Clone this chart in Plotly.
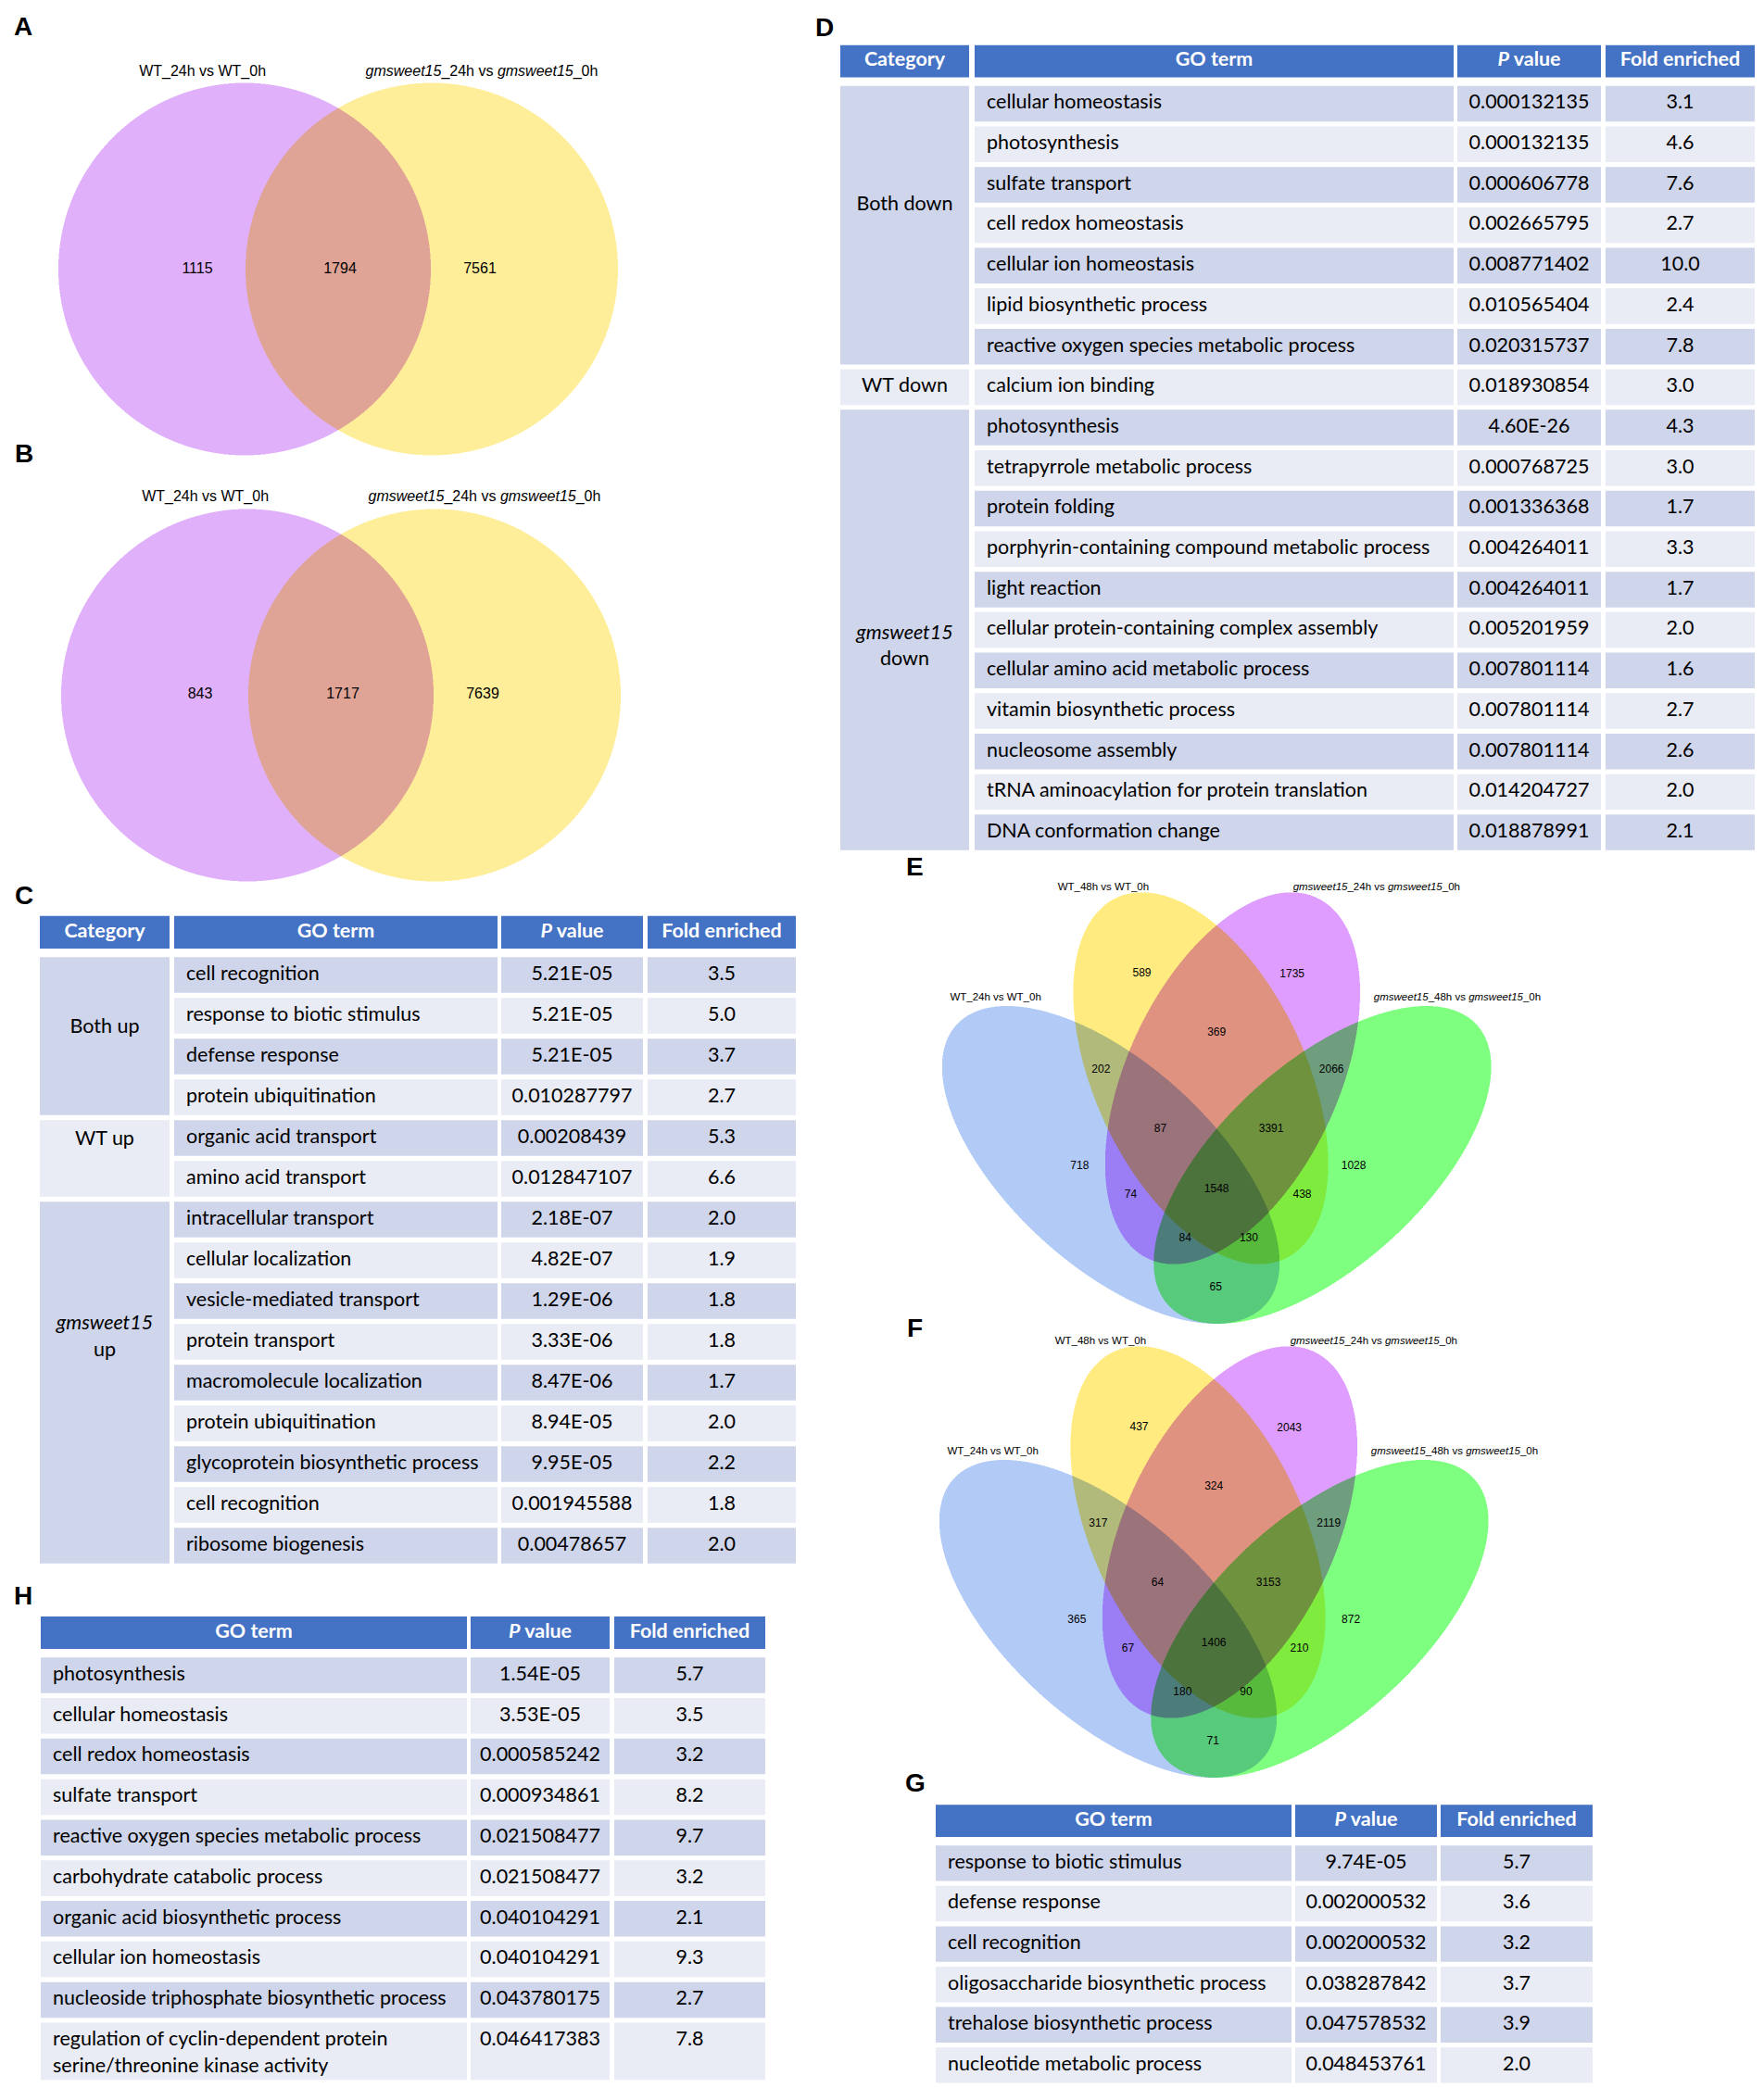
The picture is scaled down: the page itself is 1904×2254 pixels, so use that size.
import numpy as np
import plotly.graph_objects as go

W, H = 1904, 2254
FONT_T = "Lato, Carlito, Calibri, sans-serif"
FONT_V = "Liberation Sans Narrow, Arial Narrow, Liberation Sans, Arial, sans-serif"
HEAD = "#4472C4"
DARK = "#CFD5EA"
LIGHT = "#E9EBF5"

# ---------------- data ----------------
two_sets = ["WT_24h vs WT_0h", "<i>gmsweet15</i>_24h vs <i>gmsweet15</i>_0h"]
venn_a_counts = [1115, 1794, 7561]   # only 1, both, only 2
venn_b_counts = [843, 1717, 7639]

four_sets = ["WT_24h vs WT_0h", "WT_48h vs WT_0h",
             "<i>gmsweet15</i>_24h vs <i>gmsweet15</i>_0h",
             "<i>gmsweet15</i>_48h vs <i>gmsweet15</i>_0h"]
quad_regions = ["1", "2", "3", "4", "12", "13", "14", "23", "24", "34",
                "123", "124", "134", "234", "1234"]
venn_e_counts = [718, 589, 1735, 1028, 202, 74, 65, 369, 438, 2066, 87, 130, 84, 3391, 1548]
venn_f_counts = [365, 437, 2043, 872, 317, 67, 71, 324, 210, 2119, 64, 90, 180, 3153, 1406]

c_groups = ["Both up", "WT up", "<i>gmsweet15</i><br>up"]
c_sizes = [4, 2, 9]
c_terms = ["cell recognition", "response to biotic stimulus", "defense response",
           "protein ubiquitination", "organic acid transport", "amino acid transport",
           "intracellular transport", "cellular localization", "vesicle-mediated transport",
           "protein transport", "macromolecule localization", "protein ubiquitination",
           "glycoprotein biosynthetic process", "cell recognition", "ribosome biogenesis"]
c_pvals = ["5.21E-05", "5.21E-05", "5.21E-05", "0.010287797", "0.00208439", "0.012847107",
           "2.18E-07", "4.82E-07", "1.29E-06", "3.33E-06", "8.47E-06", "8.94E-05",
           "9.95E-05", "0.001945588", "0.00478657"]
c_fold = [3.5, 5.0, 3.7, 2.7, 5.3, 6.6, 2.0, 1.9, 1.8, 1.8, 1.7, 2.0, 2.2, 1.8, 2.0]

d_groups = ["Both down", "WT down", "<i>gmsweet15</i><br>down"]
d_sizes = [7, 1, 11]
d_terms = ["cellular homeostasis", "photosynthesis", "sulfate transport", "cell redox homeostasis",
           "cellular ion homeostasis", "lipid biosynthetic process",
           "reactive oxygen species metabolic process", "calcium ion binding", "photosynthesis",
           "tetrapyrrole metabolic process", "protein folding",
           "porphyrin-containing compound metabolic process", "light reaction",
           "cellular protein-containing complex assembly", "cellular amino acid metabolic process",
           "vitamin biosynthetic process", "nucleosome assembly",
           "tRNA aminoacylation for protein translation", "DNA conformation change"]
d_pvals = ["0.000132135", "0.000132135", "0.000606778", "0.002665795", "0.008771402",
           "0.010565404", "0.020315737", "0.018930854", "4.60E-26", "0.000768725",
           "0.001336368", "0.004264011", "0.004264011", "0.005201959", "0.007801114",
           "0.007801114", "0.007801114", "0.014204727", "0.018878991"]
d_fold = [3.1, 4.6, 7.6, 2.7, 10.0, 2.4, 7.8, 3.0, 4.3, 3.0, 1.7, 3.3, 1.7, 2.0, 1.6, 2.7, 2.6, 2.0, 2.1]

g_terms = ["response to biotic stimulus", "defense response", "cell recognition",
           "oligosaccharide biosynthetic process", "trehalose biosynthetic process",
           "nucleotide metabolic process"]
g_pvals = ["9.74E-05", "0.002000532", "0.002000532", "0.038287842", "0.047578532", "0.048453761"]
g_fold = [5.7, 3.6, 3.2, 3.7, 3.9, 2.0]

h_terms = ["photosynthesis", "cellular homeostasis", "cell redox homeostasis", "sulfate transport",
           "reactive oxygen species metabolic process", "carbohydrate catabolic process",
           "organic acid biosynthetic process", "cellular ion homeostasis",
           "nucleoside triphosphate biosynthetic process",
           "regulation of cyclin-dependent protein<br>serine/threonine kinase activity"]
h_pvals = ["1.54E-05", "3.53E-05", "0.000585242", "0.000934861", "0.021508477", "0.021508477",
           "0.040104291", "0.040104291", "0.043780175", "0.046417383"]
h_fold = [5.7, 3.5, 3.2, 8.2, 9.7, 3.2, 2.1, 9.3, 2.7, 7.8]

hdr4 = ["Category", "GO term", "<i>P</i> value", "Fold enriched"]
hdr3 = ["GO term", "<i>P</i> value", "Fold enriched"]

# ---------------- layout / style ----------------
# venn geometry in page pixels: (cx, cy, a, b, angle)
two_ellipses = [(263, 286.5, 201, 201, 0), (465, 286.5, 201, 201, 0)]
two_colors = [(224, 176, 250), (255, 238, 153)]
two_count_xy = [(212, 286.5), (366, 286.5), (517, 286.5)]
two_label_xy = [(217.6, 73.5), (519, 73.5)]

quad_ellipses = [(1198, 1255.5, 225, 109.4, 42.2), (1295, 1162, 215, 114, 65),
                 (1329.4, 1162, 215, 114, 115), (1426.4, 1255.5, 225, 109.4, 137.8)]
quad_colors = [(177, 202, 246), (255, 235, 127), (223, 158, 255), (127, 255, 127)]
quad_count_xy = [(1164.3, 1256.5), (1231.5, 1049.3), (1393.7, 1050.3), (1460.1, 1256.5),
                 (1187.3, 1152.7), (1219.4, 1287.9), (1311.3, 1388.3), (1312.2, 1112.8),
                 (1404.5, 1287.9), (1436.2, 1152.7), (1251.4, 1216.9), (1346.9, 1335.2),
                 (1278.3, 1335.2), (1371.1, 1216.9), (1312.2, 1281.8)]
quad_label_xy = [(1073.6, 1075.5), (1189.9, 956.3), (1484.8, 956.3), (1572, 1075.5)]


fig = go.Figure()


def venn_raster(ellipses, colors, left, top, w, h, ss=2):
    xs = left + (np.arange(w * ss) + 0.5) / ss
    ys = top + (np.arange(h * ss) + 0.5) / ss
    X, Y = np.meshgrid(xs, ys)
    img = np.ones((h * ss, w * ss, 3))
    for (cx, cy, a, b, ang), col in zip(ellipses, colors):
        t = np.radians(ang)
        dx, dy = X - cx, Y - cy
        u = dx * np.cos(t) + dy * np.sin(t)
        v = -dx * np.sin(t) + dy * np.cos(t)
        inside = (u / a) ** 2 + (v / b) ** 2 <= 1
        img[inside] *= np.array(col) / 255.0
    img = img.reshape(h, ss, w, ss, 3).mean(axis=(1, 3))
    return np.round(img * 255).astype(np.uint8)


def add_venn(ellipses, colors, box, dx, dy, counts, count_xy, labels, label_xy, fsize, lsize):
    ell = [(cx + dx, cy + dy, a, b, t) for cx, cy, a, b, t in ellipses]
    left, top, w, h = box
    img = venn_raster(ell, colors, left + dx, top + dy, w, h)
    fig.add_trace(go.Image(z=img.tolist(), x0=left + dx + 0.5, y0=top + dy + 0.5, dx=1, dy=1,
                           xaxis="x", yaxis="y", hoverinfo="skip"))
    fig.add_trace(go.Scatter(x=[p[0] + dx for p in count_xy], y=[p[1] + dy for p in count_xy],
                             text=[str(c) for c in counts], mode="text",
                             textfont=dict(family=FONT_V, size=fsize, color="black"),
                             xaxis="x", yaxis="y", hoverinfo="skip", showlegend=False))
    fig.add_trace(go.Scatter(x=[p[0] + dx for p in label_xy], y=[p[1] + dy for p in label_xy],
                             text=labels, mode="text",
                             textfont=dict(family=FONT_V, size=lsize, color="black"),
                             xaxis="x", yaxis="y", hoverinfo="skip", showlegend=False))


add_venn(two_ellipses, two_colors, (55, 82, 620, 412), -7, -4, venn_a_counts, two_count_xy,
         two_sets, two_label_xy, 16, 16)
add_venn(two_ellipses, two_colors, (55, 82, 620, 412), -4, 455.5, venn_b_counts, two_count_xy,
         two_sets, two_label_xy, 16, 16)
add_venn(quad_ellipses, quad_colors, (1005, 958, 615, 478), -7, -6, venn_e_counts, quad_count_xy,
         four_sets, quad_label_xy, 12, 11.5)
add_venn(quad_ellipses, quad_colors, (1005, 958, 615, 478), -10, 484, venn_f_counts, quad_count_xy,
         four_sets, quad_label_xy, 12, 11.5)

LINE = 0.65   # line spacing in rows for two-line cells
GAP = 0.12
TS = 21.5     # table font size


def add_table(k, cols, row0_y, pitch, headers, terms, pvals, folds,
              groups=None, sizes=None, cat_pos=None, heights=None):
    n = len(terms)
    heights = np.array(heights if heights else [1.0] * n)
    starts = np.concatenate([[0], np.cumsum(heights)[:-1]])
    total = heights.sum()
    top, bot = -1.3, total + 0.15
    px_top = row0_y - (0.5 - top) * pitch
    px_bot = row0_y + (bot - 0.5) * pitch
    L, R = cols[0][0] - 4, cols[-1][1] + 4
    fig.layout["xaxis%d" % k] = dict(domain=[L / W, R / W], range=[L, R], visible=False,
                                     fixedrange=True)
    fig.layout["yaxis%d" % k] = dict(domain=[1 - px_bot / H, 1 - px_top / H], range=[bot, top],
                                     visible=False, fixedrange=True)
    xr, yr = "x%d" % k, "y%d" % k

    def bars(y, l, r, width, colors):
        fig.add_trace(go.Bar(y=y, x=[r - l] * len(y), base=[l] * len(y), width=width,
                             orientation="h", marker=dict(color=colors, line=dict(width=0)),
                             xaxis=xr, yaxis=yr, hoverinfo="skip", showlegend=False))

    def texts(x, y, txt, pos, color="black", size=TS):
        fig.add_trace(go.Scatter(x=x, y=y, text=txt, mode="text", textposition=pos,
                                 textfont=dict(family=FONT_T, size=size, color=color),
                                 xaxis=xr, yaxis=yr, hoverinfo="skip", showlegend=False,
                                 cliponaxis=False))

    # header
    hy = -0.55
    for (l, r), t in zip(cols, headers):
        bars([hy], l, r, [0.8], [HEAD])
        texts([(l + r) / 2], [hy], ["<b>%s</b>" % t], "middle center", "white")

    centers = starts + heights / 2
    shade = [DARK if i % 2 == 0 else LIGHT for i in range(n)]
    data_cols = cols[-3:]
    for (l, r) in data_cols:
        bars(list(centers), l, r, list(heights - GAP), shade)

    # first-line positions
    first = starts + 0.5
    (tl, tr), (pl, pr), (fl, fr) = data_cols
    tx, ty, tt = [], [], []
    for i, term in enumerate(terms):
        for j, line in enumerate(term.split("<br>")):
            tx.append(tl + 13)
            ty.append(first[i] + j * LINE)
            tt.append(line)
    texts(tx, ty, tt, "middle right")
    texts([(pl + pr) / 2] * n, list(first), pvals, "middle center")
    texts([(fl + fr) / 2] * n, list(first), ["%.1f" % f for f in folds], "middle center")

    if groups:
        cl, cr = cols[0]
        g_start = np.concatenate([[0], np.cumsum(sizes)[:-1]])
        g_cent = g_start + np.array(sizes) / 2
        bars(list(g_cent), cl, cr, [s - GAP for s in sizes],
             [DARK if i % 2 == 0 else LIGHT for i in range(len(sizes))])
        gx, gy, gt = [], [], []
        for g, p in zip(groups, cat_pos):
            lines = g.split("<br>")
            for j, line in enumerate(lines):
                gx.append((cl + cr) / 2)
                gy.append(p + 0.5 + (j - (len(lines) - 1) / 2) * LINE)
                gt.append(line)
        texts(gx, gy, gt, "middle center")


add_table(2, [(35, 175), (180, 529), (533, 686), (691, 851)], 1044.5, 44.0, hdr4,
          c_terms, c_pvals, c_fold, c_groups, c_sizes, [1.3, 4.05, 8.9])
add_table(3, [(899, 1038), (1044, 1561), (1565, 1720), (1725, 1886)], 104, 43.7, hdr4,
          d_terms, d_pvals, d_fold, d_groups, d_sizes, [2.5, 7.0, 13.43])
add_table(4, [(1002, 1386), (1390, 1543), (1547, 1711)], 2003.4, 43.6, hdr3,
          g_terms, g_pvals, g_fold)
add_table(5, [(36, 496), (500, 650), (655, 818)], 1800.5, 43.8, hdr3,
          h_terms, h_pvals, h_fold, heights=[1] * 9 + [1.53])

panel_letters = ["A", "B", "C", "D", "E", "F", "G", "H"]
letter_xy = [(17, 20), (18, 481), (18, 958), (882, 21), (979, 927), (979, 1425), (980, 1916),
             (17, 1714)]
for lt, (x, y) in zip(panel_letters, letter_xy):
    fig.add_annotation(x=x, y=y, xref="x", yref="y", text="<b>%s</b>" % lt, showarrow=False,
                       font=dict(family="Liberation Sans, Arial, sans-serif", size=28,
                                 color="black"))

fig.update_layout(
    width=W, height=H, margin=dict(l=0, r=0, t=0, b=0),
    paper_bgcolor="white", plot_bgcolor="rgba(0,0,0,0)",
    barmode="overlay", showlegend=False,
    xaxis=dict(domain=[0, 1], range=[0, W], visible=False, fixedrange=True),
    yaxis=dict(domain=[0, 1], range=[H, 0], visible=False, fixedrange=True),
)

fig.write_html("out.html")
